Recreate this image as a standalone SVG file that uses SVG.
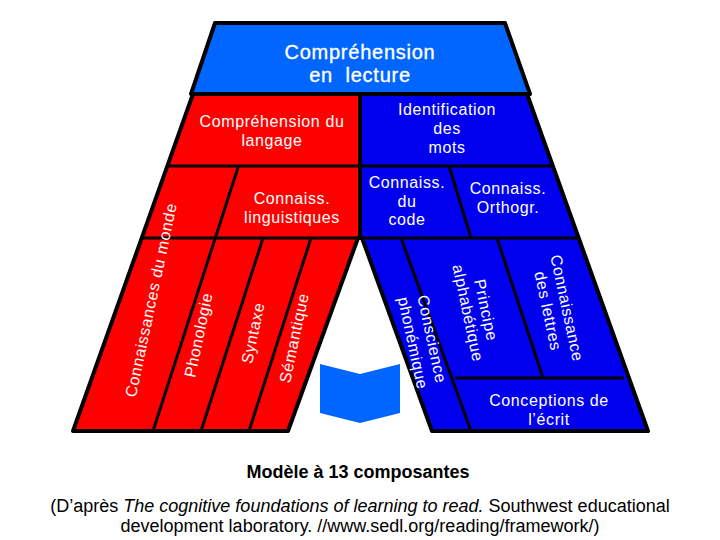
<svg xmlns="http://www.w3.org/2000/svg" width="720" height="540" viewBox="0 0 720 540">
<style>
.s{stroke:#000;stroke-width:4;stroke-linejoin:round}
.d{stroke:#000;stroke-width:3;fill:none}
.top{fill:#0066ff}.red{fill:#ff0000}.blue{fill:#0000ee}
text{font-family:"Liberation Sans",Arial,sans-serif;text-anchor:middle}
.w{fill:#fff;font-size:16px;letter-spacing:.6px}
.t{fill:#fff;font-size:20px;letter-spacing:.75px;stroke:#fff;stroke-width:.35px}
.k{fill:#000;font-size:18px}
.b{fill:#000;font-size:18px;font-weight:bold}
</style>
<rect width="720" height="540" fill="#fff"/>
<g id="shape-left"><path class="red s" d="M193 94H360V238H358L288 431H73Z"/></g>
<g id="shape-right"><path class="blue s" d="M360 94H527L648 431H432L362 238H360Z"/></g>
<g id="node-comprehension"><path class="top s" d="M215 23H505L530 94H191Z"/>
<text class="t" x="360" y="59">Compréhension</text>
<text class="t" x="360" y="82" xml:space="preserve">en  lecture</text></g>
<g id="connectors">
<path class="d" d="M168 166H553M360 94V238M140 238H580"/>
<path class="d" d="M238.500 166L153 431M263 238L201 431M311 238L249 431"/>
<path class="d" d="M449 166L471 238M401 238L471 431M497 238L543 378M455 378H624"/>
</g>
<g id="node-comprehension-langage"><text class="w" x="272" y="127">Compréhension du</text><text class="w" x="272" y="146">langage</text></g>
<g id="node-identification"><text class="w" x="447" y="115">Identification</text><text class="w" x="447" y="134">des</text><text class="w" x="447" y="153">mots</text></g>
<g id="node-ling"><text class="w" x="292" y="204">Connaiss.</text><text class="w" x="292" y="223">linguistiques</text></g>
<g id="node-code"><text class="w" x="407" y="188">Connaiss.</text><text class="w" x="407" y="207">du</text><text class="w" x="407" y="225">code</text></g>
<g id="node-orthogr"><text class="w" x="508" y="194">Connaiss.</text><text class="w" x="508" y="213">Orthogr.</text></g>
<g id="node-monde"><text class="w" transform="translate(151 300) rotate(-78)" y="5.500">Connaissances du monde</text></g>
<g id="node-phono"><text class="w" transform="translate(198.500 335) rotate(-78)" y="5.500">Phonologie</text></g>
<g id="node-syntaxe"><text class="w" transform="translate(253 333) rotate(-78)" y="5.500">Syntaxe</text></g>
<g id="node-semantique"><text class="w" transform="translate(294 338) rotate(-78)" y="5.500">Sémantique</text></g>
<g id="node-conscience"><text class="w" transform="translate(432 339) rotate(78)" y="5.500">Conscience</text><text class="w" transform="translate(413 343) rotate(78)" y="5.500">phonémique</text></g>
<g id="node-principe"><text class="w" transform="translate(486 310) rotate(78)" y="5.500">Principe</text><text class="w" transform="translate(468 313) rotate(78)" y="5.500">alphabétique</text></g>
<g id="node-lettres"><text class="w" transform="translate(567 308) rotate(78)" y="5.500">Connaissance</text><text class="w" transform="translate(548 311) rotate(78)" y="5.500">des lettres</text></g>
<g id="node-conceptions"><text class="w" x="549" y="406">Conceptions de</text><text class="w" x="549" y="425">l’écrit</text></g>
<g id="book"><path fill="#0066ff" d="M320 364L360 374L400 364V413L360 423L320 413Z"/></g>
<text class="b" x="358" y="478">Modèle à 13 composantes</text>
<text class="k" x="360" y="512">(D’après <tspan font-style="italic">The cognitive foundations of learning to read.</tspan> Southwest educational</text>
<text class="k" x="360" y="532">development laboratory. //www.sedl.org/reading/framework/)</text>
</svg>
